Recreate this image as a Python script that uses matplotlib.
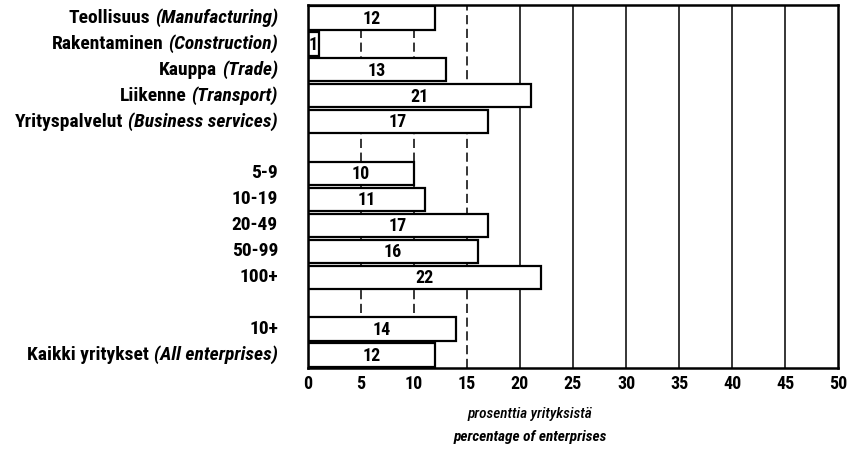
import matplotlib
matplotlib.use("Agg")
import matplotlib.pyplot as plt
import matplotlib.transforms as mtransforms

# Data
labels_plain = ["Teollisuus", "Rakentaminen", "Kauppa", "Liikenne", "Yrityspalvelut",
                "", "5-9", "10-19", "20-49", "50-99", "100+", "", "10+", "Kaikki yritykset"]
labels_italic = ["(Manufacturing)", "(Construction)", "(Trade)", "(Transport)", "(Business services)",
                 "", "", "", "", "", "", "", "", "(All enterprises)"]
values = [12, 1, 13, 21, 17, None, 10, 11, 17, 16, 22, None, 14, 12]
xticks = [0, 5, 10, 15, 20, 25, 30, 35, 40, 45, 50]
xlabel_fi = "prosenttia yrityksistä"
xlabel_en = "percentage of enterprises"

plt.rcParams["font.family"] = ["Roboto Condensed", "DejaVu Sans"]

fig = plt.figure(figsize=(8.47, 4.57), dpi=100)
ax = fig.add_axes([0.3636, 0.195, 0.6258, 0.794])

# grid lines
for xv in xticks[1:-1]:
    ls = (0, (6, 3)) if xv in (5, 10, 15) else "-"
    ax.axvline(xv, color="black", lw=1.1, ls=ls, zorder=1)

ys = list(range(len(values)))
for y, v in zip(ys, values):
    if v is None:
        continue
    ax.barh(y, v, height=0.9, color="white", edgecolor="black", lw=1.6, zorder=2)
    ax.text(v / 2, y + 0.03, str(v), ha="center", va="center", fontsize=13,
            fontweight="bold", zorder=3)

ax.set_xlim(0, 50)
ax.set_ylim(len(values) - 0.5, -0.5)
ax.set_xticks(xticks)
ax.set_xticklabels([str(t) for t in xticks], fontsize=13, fontweight="bold")
ax.set_yticks([])
ax.tick_params(axis="x", length=0, pad=5)
for s in ax.spines.values():
    s.set_linewidth(1.8)

fig.canvas.draw()
renderer = fig.canvas.get_renderer()
for y, p, it in zip(ys, labels_plain, labels_italic):
    if not p:
        continue
    trans = mtransforms.offset_copy(ax.get_yaxis_transform(), fig=fig, x=-30, y=0, units="dots")
    if it:
        t = ax.text(0, y, it, transform=trans, ha="right", va="center", fontsize=14,
                    fontweight="bold", fontstyle="italic")
        w = t.get_window_extent(renderer).width
        trans2 = mtransforms.offset_copy(ax.get_yaxis_transform(), fig=fig, x=-30 - w - 5, y=0, units="dots")
        ax.text(0, y, p, transform=trans2, ha="right", va="center", fontsize=14, fontweight="bold")
    else:
        ax.text(0, y, p, transform=trans, ha="right", va="center", fontsize=14, fontweight="bold")

fig.text(0.626, 0.094, xlabel_fi, ha="center", va="center", fontsize=11, fontstyle="italic",
         fontweight="medium")
fig.text(0.626, 0.044, xlabel_en, ha="center", va="center", fontsize=11, fontstyle="italic",
         fontweight="bold")

fig.savefig("out.png", dpi=100, facecolor="white")
